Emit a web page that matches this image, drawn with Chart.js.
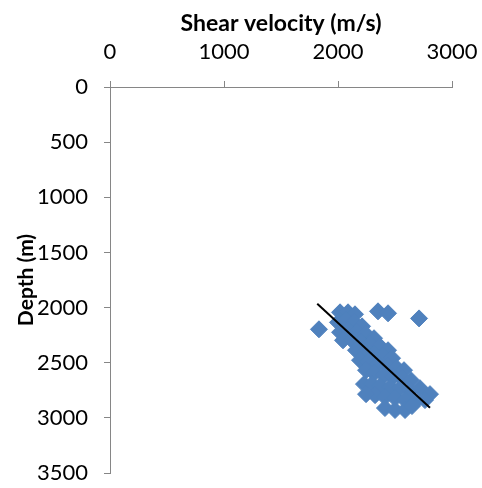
<!DOCTYPE html>
<html>
<head>
<meta charset="utf-8">
<script src="https://cdn.jsdelivr.net/npm/chart.js@4/dist/chart.umd.min.js"></script>
<style>
  html, body { margin: 0; padding: 0; background: #fff; }
  #wrap { width: 482px; height: 488px; }
</style>
</head>
<body>
<div id="wrap"><canvas id="c" width="482" height="488"></canvas></div>
<script>
// Shear velocity (m/s) of each sample
const velocity = [
  2018, 2088, 2149, 2000, 2070, 2140, 2211, 2018, 2088, 2167,
  2246, 2316, 2044, 2123, 2202, 2281, 2368, 2439, 2158, 2237,
  2316, 2395, 2474, 2193, 2263, 2351, 2439, 2518, 2579, 2246,
  2316, 2404, 2482, 2561, 2640, 2228, 2298, 2368, 2456, 2544,
  2632, 2719, 2807, 2325, 2412, 2500, 2588, 2675, 2763, 2412,
  2500, 2588, 2649, 2246, 1833, 2351, 2439, 2711
];
// Depth (m) of each sample
const depth = [
  2043, 2043, 2061, 2134, 2116, 2134, 2170, 2224, 2206, 2224,
  2242, 2278, 2297, 2297, 2315, 2333, 2351, 2387, 2387, 2405,
  2423, 2441, 2459, 2477, 2495, 2514, 2532, 2550, 2568, 2568,
  2595, 2613, 2631, 2640, 2658, 2694, 2694, 2712, 2721, 2731,
  2749, 2731, 2785, 2794, 2812, 2821, 2839, 2857, 2839, 2911,
  2929, 2929, 2893, 2785, 2197, 2034, 2052, 2098
];
// Trend line end points
const trendVelocity = [1818, 2807];
const trendDepth = [1965, 2909];

const xTicks = [0, 1000, 2000, 3000];
const yTicks = [0, 500, 1000, 1500, 2000, 2500, 3000, 3500];

const FONT = "Lato, 'Open Sans', 'Liberation Sans', sans-serif";
const AXIS = '#868686';

const points = velocity.map((v, i) => ({ x: v, y: depth[i] }));
const trend = trendVelocity.map((v, i) => ({ x: v, y: trendDepth[i] }));

new Chart(document.getElementById('c'), {
  type: 'scatter',
  data: {
    datasets: [
      {
        label: 'Trend',
        data: trend,
        showLine: true,
        borderColor: '#000000',
        borderWidth: 2,
        pointRadius: 0,
        fill: false
      },
      {
        label: 'Shear velocity',
        data: points,
        pointStyle: 'rectRot',
        pointRadius: 8.5,
        pointBackgroundColor: '#4F81BD',
        pointBorderColor: '#4F81BD',
        pointBorderWidth: 1
      }
    ]
  },
  options: {
    responsive: false,
    animation: false,
    events: [],
    layout: { autoPadding: false, padding: { left: 0, right: 30, top: 0, bottom: 15 } },
    plugins: { legend: { display: false }, tooltip: { enabled: false } },
    scales: {
      x: {
        type: 'linear',
        position: 'top',
        min: 0, max: 3000,
        afterBuildTicks: (s) => { s.ticks = xTicks.map(v => ({ value: v })); },
        afterFit: (s) => { s.height = 87; s.paddingLeft = 0; s.paddingRight = 0; },
        grid: { drawOnChartArea: false, drawTicks: true, tickLength: 6, color: AXIS },
        border: { display: true, color: AXIS, width: 1 },
        ticks: { color: '#000', padding: 16, font: { family: FONT, size: 22 }, callback: (v) => String(v) },
        title: {
          display: true,
          text: 'Shear velocity (m/s)',
          color: '#000',
          font: { family: FONT, size: 23, weight: 'bold' },
          padding: { top: 10, bottom: 0 }
        }
      },
      y: {
        type: 'linear',
        reverse: true,
        min: 0, max: 3500,
        afterBuildTicks: (s) => { s.ticks = yTicks.map(v => ({ value: v })); },
        afterFit: (s) => { s.width = 110; s.paddingTop = 0; s.paddingBottom = 0; },
        grid: { drawOnChartArea: false, drawTicks: true, tickLength: 6, color: AXIS },
        border: { display: true, color: AXIS, width: 1 },
        ticks: { color: '#000', padding: 16, font: { family: FONT, size: 22 }, callback: (v) => String(v) },
        title: {
          display: true,
          text: 'Depth (m)',
          color: '#000',
          font: { family: FONT, size: 21, weight: 'bold' },
          padding: { top: 14, bottom: 0 }
        }
      }
    }
  }
});
</script>
</body>
</html>
